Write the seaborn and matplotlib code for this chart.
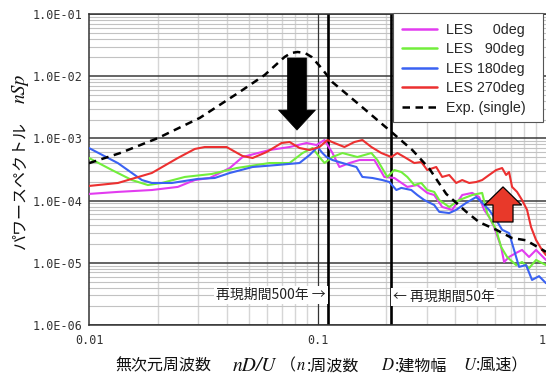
import numpy as np
import pandas as pd
import matplotlib
matplotlib.use("Agg")
import matplotlib.pyplot as plt
import seaborn as sns
from matplotlib.ticker import LogLocator, NullFormatter
from matplotlib.lines import Line2D
from matplotlib.patches import Rectangle

sns.set_theme(style="white")
plt.rcParams['font.family'] = ['Noto Sans CJK JP', 'DejaVu Sans']

# ---- spectra (non-dimensional frequency nD/U, power spectrum nSp) ----
freq_0 = [0.0100, 0.01339, 0.01884, 0.02447, 0.02904, 0.03376, 0.0413, 0.0470, 0.0617, 0.0755,
          0.0895, 0.0990, 0.1073, 0.1163, 0.1247, 0.1380, 0.1526, 0.1774, 0.1961, 0.2169,
          0.2472, 0.2734, 0.3022, 0.3242, 0.3514, 0.3886, 0.4298, 0.4753, 0.5099, 0.5362,
          0.5637, 0.5930, 0.6361, 0.6556, 0.6893, 0.7396, 0.7856, 0.8429, 0.9045, 1.0]
nsp_0 = [1.28e-4, 1.38e-4, 1.48e-4, 1.66e-4, 2.14e-4, 2.31e-4, 3.34e-4, 5.02e-4, 6.51e-4, 7.27e-4,
         8.43e-4, 7.83e-4, 9.42e-4, 5.82e-4, 3.47e-4, 4.02e-4, 4.49e-4, 4.49e-4, 2.40e-4, 2.31e-4,
         1.66e-4, 1.78e-4, 1.33e-4, 1.23e-4, 7.9e-5, 7.1e-5, 1.23e-4, 1.33e-4, 1.14e-4, 7.1e-5,
         5.45e-5, 3.76e-5, 1.8e-5, 1.03e-5, 1.24e-5, 1.44e-5, 1.61e-5, 1.24e-5, 1.61e-5, 1.11e-5]

freq_90 = [0.0100, 0.0126, 0.01541, 0.0181, 0.02084, 0.02626, 0.03444, 0.04428, 0.0617, 0.0755,
           0.0860, 0.0951, 0.1020, 0.1073, 0.1163, 0.1286, 0.1495, 0.1721, 0.1828, 0.2021,
           0.2169, 0.2327, 0.2472, 0.2652, 0.2846, 0.3022, 0.3242, 0.3410, 0.3771, 0.4171,
           0.4753, 0.5255, 0.5526, 0.6050, 0.6361, 0.6756, 0.7396, 0.7856, 0.8429, 0.9045, 1.0]
nsp_90 = [4.84e-4, 3.10e-4, 2.14e-4, 1.78e-4, 1.92e-4, 2.40e-4, 2.68e-4, 3.34e-4, 4.02e-4, 4.02e-4,
          5.82e-4, 7.01e-4, 5.02e-4, 4.02e-4, 5.02e-4, 5.82e-4, 5.02e-4, 5.82e-4, 4.49e-4, 2.40e-4,
          3.10e-4, 2.88e-4, 2.40e-4, 1.78e-4, 1.92e-4, 1.48e-4, 1.38e-4, 1.02e-4, 7.9e-5, 1.02e-4,
          1.23e-4, 1.33e-4, 6.3e-5, 3.4e-5, 1.8e-5, 1.24e-5, 9.2e-6, 1.03e-5, 8.2e-6, 1.11e-5, 9.2e-6]

freq_180 = [0.0100, 0.01339, 0.01704, 0.01884, 0.02304, 0.02992, 0.0355, 0.0413, 0.0520, 0.0662,
            0.0834, 0.0923, 0.1000, 0.1051, 0.1095, 0.1163, 0.1286, 0.1480, 0.1572, 0.1739,
            0.1922, 0.2062, 0.2213, 0.2327, 0.2573, 0.2734, 0.2933, 0.3242, 0.3410, 0.3771,
            0.4046, 0.4475, 0.4948, 0.5255, 0.5637, 0.6050, 0.6426, 0.6893, 0.7248, 0.7622,
            0.8180, 0.8687, 0.9320, 1.0]
nsp_180 = [7.0e-4, 4.0e-4, 2.14e-4, 1.92e-4, 1.92e-4, 2.23e-4, 2.31e-4, 2.78e-4, 3.47e-4, 3.73e-4,
           4.02e-4, 5.4e-4, 7.27e-4, 5.82e-4, 5.02e-4, 4.49e-4, 4.02e-4, 3.47e-4, 2.40e-4, 2.31e-4,
           2.14e-4, 1.99e-4, 1.48e-4, 1.60e-4, 1.48e-4, 1.23e-4, 1.02e-4, 8.5e-5, 6.6e-5, 6.3e-5,
           7.1e-5, 9.2e-5, 1.14e-4, 9.2e-5, 7.1e-5, 4.9e-5, 3.4e-5, 3.0e-5, 1.61e-5, 8.6e-6,
           9.2e-6, 5.3e-6, 6.1e-6, 4.7e-6]

freq_270 = [0.0100, 0.01339, 0.01884, 0.02447, 0.02904, 0.0321, 0.0400, 0.0470, 0.0520, 0.0599,
            0.0696, 0.0755, 0.0834, 0.0923, 0.1020, 0.1106, 0.1186, 0.1312, 0.1451, 0.1572,
            0.1721, 0.1903, 0.2104, 0.2236, 0.2399, 0.2652, 0.2846, 0.3022, 0.3308, 0.3514,
            0.3771, 0.4046, 0.4298, 0.4612, 0.4948, 0.5255, 0.5637, 0.6050, 0.6426, 0.6689,
            0.6893, 0.7104, 0.7470, 0.7856, 0.8261, 0.8600, 0.9045, 0.9605, 1.0]
nsp_270 = [1.72e-4, 1.92e-4, 2.78e-4, 4.84e-4, 6.76e-4, 7.27e-4, 7.27e-4, 5.21e-4, 4.84e-4, 6.04e-4,
           8.43e-4, 8.75e-4, 7.01e-4, 6.51e-4, 7.27e-4, 9.42e-4, 8.43e-4, 7.27e-4, 8.75e-4, 9.42e-4,
           7.27e-4, 5.82e-4, 5.02e-4, 5.82e-4, 5.02e-4, 4.02e-4, 4.17e-4, 3.10e-4, 3.47e-4, 2.40e-4,
           2.58e-4, 1.92e-4, 2.14e-4, 1.92e-4, 1.99e-4, 2.14e-4, 2.58e-4, 3.10e-4, 3.34e-4, 2.58e-4,
           2.88e-4, 1.66e-4, 1.38e-4, 1.02e-4, 7.1e-5, 3.76e-5, 2.33e-5, 1.61e-5, 1.33e-5]

freq_exp = [0.0100, 0.01366, 0.0200, 0.0305, 0.0456, 0.0587, 0.0718, 0.0766, 0.0818, 0.0882,
            0.0942, 0.1040, 0.1160, 0.1530, 0.2060, 0.2600, 0.3080, 0.3660, 0.4480, 0.5100,
            0.6050, 0.7100, 0.8180, 1.0]
nsp_exp = [4.0e-4, 5.8e-4, 1.01e-3, 2.13e-3, 5.57e-3, 1.045e-2, 2.04e-2, 2.36e-2, 2.45e-2, 2.36e-2,
           2.04e-2, 1.355e-2, 8.07e-3, 3.44e-3, 1.36e-3, 6.5e-4, 3.3e-4, 1.28e-4, 6.6e-5, 4.5e-5,
           3.4e-5, 2.5e-5, 2.3e-5, 1.5e-5]

case_labels = ["LES     0deg", "LES   90deg", "LES 180deg", "LES 270deg"]
case_colors = ["#e23cf0", "#72ee3c", "#3a62f2", "#ec3030"]
exp_label = "Exp. (single)"

# return-period reference frequencies
f_500yr = 0.1112
f_50yr = 0.2098

y_ticks = [1e-6, 1e-5, 1e-4, 1e-3, 1e-2, 1e-1]
x_ticks = [0.01, 0.1, 1]
x_ticklabels = ["0.01", "0.1", "1"]

les = pd.concat([
    pd.DataFrame({"freq": f, "nsp": s, "case": lab})
    for f, s, lab in zip([freq_0, freq_90, freq_180, freq_270],
                         [nsp_0, nsp_90, nsp_180, nsp_270], case_labels)
], ignore_index=True)
exp = pd.DataFrame({"freq": freq_exp, "nsp": nsp_exp})

W, H = 546, 378
fig = plt.figure(figsize=(W / 100, H / 100), dpi=100)
ax = fig.add_axes([89 / W, 53 / H, 457 / W, 311 / H])
ax.set_xscale("log")
ax.set_yscale("log")
ax.set_xlim(0.01, 1)
ax.set_ylim(1e-6, 1e-1)

# grid
ax.set_axisbelow(True)
ax.yaxis.set_minor_locator(LogLocator(base=10, subs=np.arange(2, 10), numticks=30))
ax.xaxis.set_minor_locator(LogLocator(base=10, subs=np.arange(2, 10), numticks=30))
ax.xaxis.set_minor_formatter(NullFormatter())
ax.yaxis.set_minor_formatter(NullFormatter())
ax.grid(True, which="minor", axis="y", color="#c2c2c2", lw=0.8, linestyle="-")
ax.grid(True, which="minor", axis="x", color="#d6d6d6", lw=1.0, linestyle="-")
ax.grid(True, which="major", axis="y", color="#3a3a3a", lw=1.1, linestyle="-")
ax.axvline(0.1, color="#333333", lw=0.9, zorder=1.7)

ax.axvline(f_500yr, color="black", lw=1.9, zorder=1.8)
ax.axvline(f_50yr, color="black", lw=1.9, zorder=1.8)

sns.lineplot(data=les, x="freq", y="nsp", hue="case", hue_order=case_labels,
             palette=case_colors, estimator=None, lw=1.5, legend=False, ax=ax, zorder=3)
sns.lineplot(data=exp, x="freq", y="nsp", color="black", lw=1.8, estimator=None,
             linestyle=(0, (3.0, 2.2)), legend=False, ax=ax, zorder=4)

# ticks
ax.set_yticks(y_ticks, labels=[f"{v:.1E}" for v in y_ticks],
              fontfamily="DejaVu Sans Mono", fontsize=8.5)
ax.set_xticks(x_ticks, labels=x_ticklabels, fontfamily="DejaVu Sans Mono", fontsize=8.5)
ax.get_xticklabels()[-1].set_horizontalalignment("right")
ax.tick_params(which="major", direction="out", length=3.5, width=1.0,
               color="#333333", labelcolor="#333333")
ax.tick_params(axis="y", which="major", pad=1.5)
ax.tick_params(axis="x", which="major", pad=3)
ax.tick_params(which="minor", length=0)
for side in ["left", "bottom", "top"]:
    ax.spines[side].set_color("#333333")
    ax.spines[side].set_linewidth(1.1)
ax.spines["right"].set_visible(False)
ax.set_xlabel("")
ax.set_ylabel("")

# arrows
ax.annotate("", xy=(0.0813, 1.36e-3), xytext=(0.0813, 1.96e-2),
            arrowprops=dict(arrowstyle="simple,head_length=1.44,head_width=2.66,tail_width=1.37",
                            fc="black", ec="black", lw=0.5, shrinkA=0, shrinkB=0,
                            mutation_scale=10), zorder=6)
ax.annotate("", xy=(0.6484, 1.66e-4), xytext=(0.6484, 4.53e-5),
            arrowprops=dict(arrowstyle="simple,head_length=1.3,head_width=2.66,tail_width=1.44",
                            fc="#e8392a", ec="black", lw=0.9, shrinkA=0, shrinkB=0,
                            mutation_scale=10), zorder=6)

# return period notes
ax.text(0.1085, 3.0e-6, "再現期間500年 →", ha="right", va="center", fontsize=10,
        color="#222222", bbox=dict(fc="white", ec="none", pad=1.5), zorder=5)
ax.text(0.2140, 2.85e-6, "← 再現期間50年", ha="left", va="center", fontsize=10,
        color="#222222", bbox=dict(fc="white", ec="none", pad=1.5), zorder=5)

# legend with a separately drawn frame
frame = Rectangle(((393 - 89) / 457, (325 - 122) / 311), (543 - 393) / 457, (122 - 13) / 311,
                  transform=ax.transAxes, fc="white", ec="#555555", lw=0.8,
                  zorder=6.5, clip_on=False)
ax.add_patch(frame)
handles = [Line2D([], [], color=c, lw=1.8) for c in case_colors]
handles.append(Line2D([], [], color="black", lw=1.8, linestyle=(0, (3.0, 2.2))))
leg = ax.legend(handles, case_labels + [exp_label], loc="upper left",
                bbox_to_anchor=((402 - 89) / 457, (325 - 23) / 311), frameon=False,
                prop={"family": "Liberation Sans", "size": 10.3},
                handlelength=2.45, handletextpad=0.63, labelspacing=0.38,
                borderpad=0.0, borderaxespad=0.0)
leg.set_zorder(7)

# axis titles
jp = dict(color="#111111", fontsize=11.5)
it_big = dict(color="#111111", fontsize=14, fontfamily="STIXGeneral", fontstyle="italic")
it = dict(color="#111111", fontsize=12, fontfamily="STIXGeneral", fontstyle="italic")
fig.text(20 / W, 1 - 185 / H, "パワースペクトル", rotation=90, ha="center", va="center", **jp)
fig.text(20 / W, 1 - 88 / H, "nSp", rotation=90, ha="center", va="center", **it_big)

yl = 1 - 366 / H
fig.text(115 / W, yl, "無次元周波数", ha="left", va="center", **jp)
fig.text(233 / W, yl, "nD/U", ha="left", va="center", **it_big)
fig.text(280 / W, yl, "（", ha="left", va="center", **jp)
fig.text(297 / W, yl, "n", ha="left", va="center", **it)
fig.text(307 / W, yl, ":周波数", ha="left", va="center", **jp)
fig.text(381 / W, yl, "D", ha="left", va="center", **it)
fig.text(395 / W, yl, ":建物幅", ha="left", va="center", **jp)
fig.text(463 / W, yl, "U", ha="left", va="center", **it)
fig.text(476 / W, yl, ":風速）", ha="left", va="center", **jp)

fig.savefig("out.png", dpi=100)
